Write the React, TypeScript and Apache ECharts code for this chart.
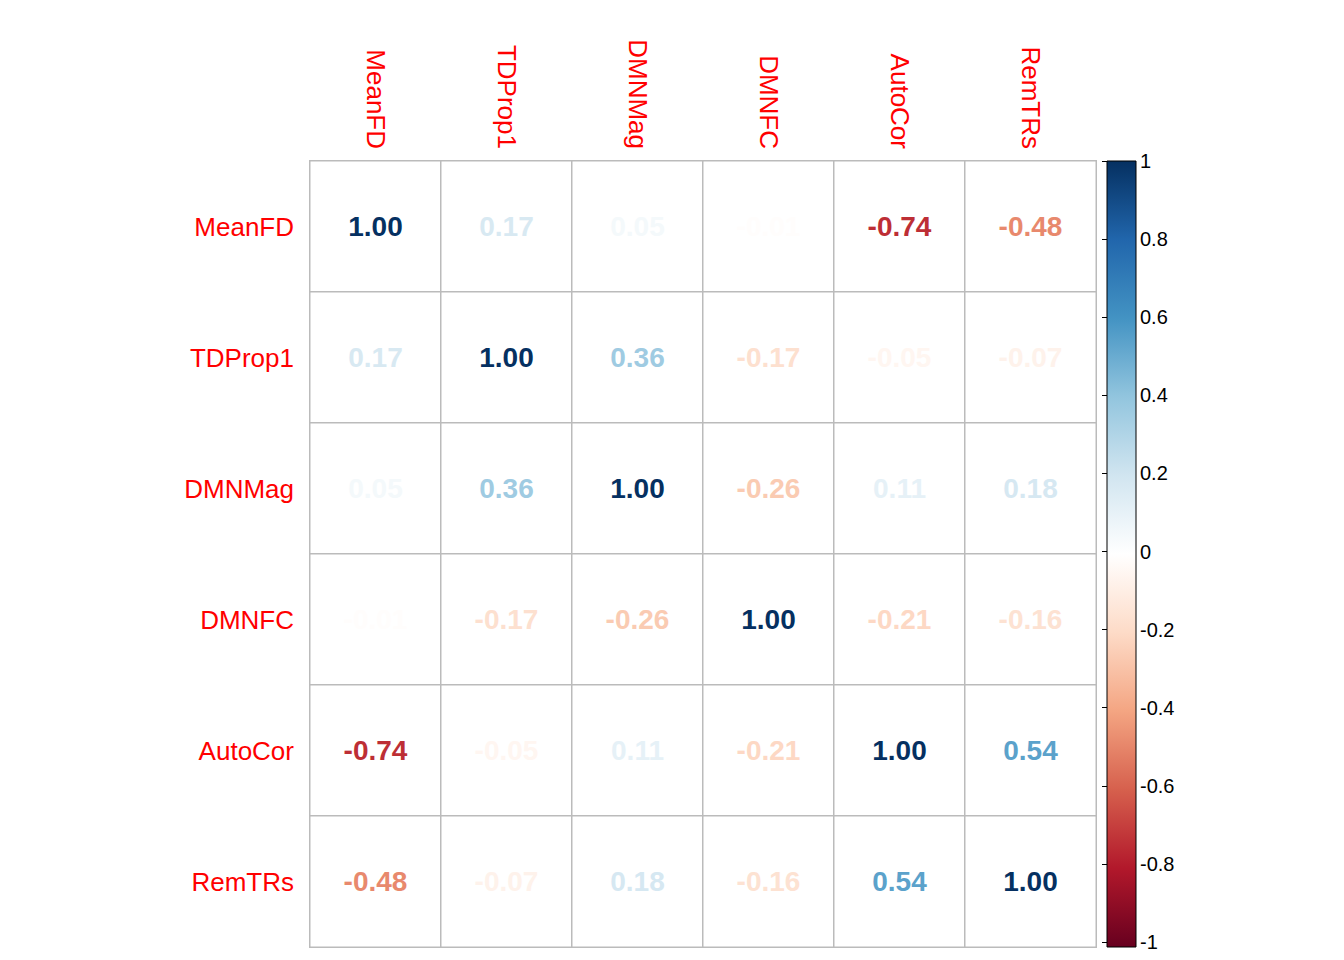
import React, { useEffect, useRef } from 'react';
import * as echarts from 'echarts';

const variables = ['MeanFD', 'TDProp1', 'DMNMag', 'DMNFC', 'AutoCor', 'RemTRs'];
const correlations = [
    [1.0, 0.17, 0.05, -0.01, -0.74, -0.48],
    [0.17, 1.0, 0.36, -0.17, -0.05, -0.07],
    [0.05, 0.36, 1.0, -0.26, 0.11, 0.18],
    [-0.01, -0.17, -0.26, 1.0, -0.21, -0.16],
    [-0.74, -0.05, 0.11, -0.21, 1.0, 0.54],
    [-0.48, -0.07, 0.18, -0.16, 0.54, 1.0],
];
const colorbarTicks = [-1, -0.8, -0.6, -0.4, -0.2, 0, 0.2, 0.4, 0.6, 0.8, 1];
const palette = ['#67001F', '#B2182B', '#D6604D', '#F4A582', '#FDDBC7', '#FFFFFF', '#D1E5F0', '#92C5DE', '#4393C3', '#2166AC', '#053061'];

const hex = (c: string) => [1, 3, 5].map(i => parseInt(c.slice(i, i + 2), 16));
const colorFor = (v: number) => {
    const t = ((v + 1) / 2) * (palette.length - 1);
    const i = Math.min(Math.floor(t), palette.length - 2);
    const f = t - i;
    const a = hex(palette[i]);
    const b = hex(palette[i + 1]);
    const m = a.map((x, k) => Math.round(x + (b[k] - x) * f));
    return `rgb(${m[0]},${m[1]},${m[2]})`;
};

const App: React.FC = () => {
    const chartRef = useRef<HTMLDivElement | null>(null);

    useEffect(() => {
        if (!chartRef.current) return;
        const chart = echarts.init(chartRef.current, null, { renderer: 'svg' });

        const data: any[] = [];
        correlations.forEach((row, r) => {
            row.forEach((v, c) => {
                data.push({ value: [c, r, v], label: { color: colorFor(v) } });
            });
        });

        chart.setOption({
            animation: false,
            textStyle: { fontFamily: 'Liberation Sans, Arial, sans-serif' },
            grid: [
                { left: 302, top: 153, width: 786, height: 786 },
                { left: 1099, top: 153, width: 29, height: 786 },
            ],
            // cells stay white; the colour goes on the numbers instead
            visualMap: {
                show: false, min: -1, max: 1, seriesIndex: 0, dimension: 2,
                inRange: { color: ['#ffffff', '#ffffff'] },
            },
            xAxis: [
                {
                    type: 'category', data: variables, position: 'top', gridIndex: 0,
                    axisLine: { show: false }, axisTick: { show: false },
                    axisLabel: { rotate: 90, color: '#ff0000', fontSize: 26, margin: 12 },
                },
                { type: 'value', gridIndex: 1, show: false, min: 0, max: 1 },
            ],
            yAxis: [
                {
                    type: 'category', data: variables, inverse: true, gridIndex: 0,
                    axisLine: { show: false }, axisTick: { show: false },
                    axisLabel: { color: '#ff0000', fontSize: 26, margin: 16 },
                },
                {
                    type: 'value', gridIndex: 1, min: -1, max: 1, interval: 0.2, position: 'right',
                    axisLine: { show: false }, splitLine: { show: false },
                    axisTick: { show: true, inside: true, length: 5, lineStyle: { color: '#000' } },
                    axisLabel: {
                        color: '#000', fontSize: 20, margin: 4,
                        formatter: (v: number) => {
                            const r = Math.round(v * 10) / 10;
                            return colorbarTicks.includes(r) ? String(r) : '';
                        },
                    },
                },
            ],
            series: [
                {
                    type: 'heatmap', xAxisIndex: 0, yAxisIndex: 0, data,
                    itemStyle: { borderColor: '#bbbbbb', borderWidth: 1.5 },
                    label: {
                        show: true, fontSize: 28, fontWeight: 'bold',
                        formatter: (p: any) => p.value[2].toFixed(2),
                    },
                    emphasis: { disabled: true },
                },
            ],
            graphic: [
                {
                    type: 'rect',
                    shape: { x: 1099, y: 153, width: 29, height: 786 },
                    style: {
                        fill: new echarts.graphic.LinearGradient(0, 1, 0, 0,
                            palette.map((c, i) => ({ offset: i / (palette.length - 1), color: c }))),
                        stroke: '#000', lineWidth: 1,
                    },
                    z: -1,
                },
            ],
        });

        return () => chart.dispose();
    }, []);

    return <div ref={chartRef} style={{ width: '1328px', height: '944px' }} />;
};

export default App;
